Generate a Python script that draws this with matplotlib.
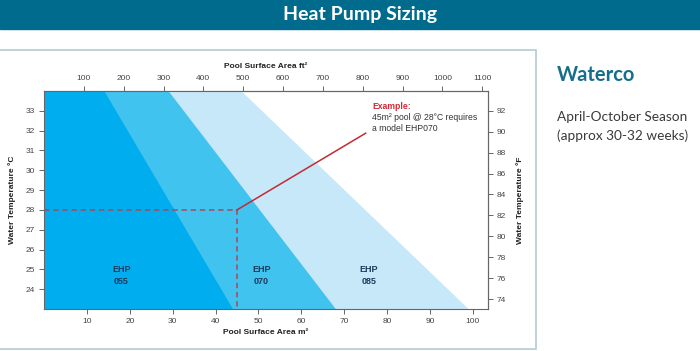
import matplotlib
matplotlib.use("Agg")
import matplotlib.pyplot as plt
from matplotlib.patches import Rectangle

# Dados
temps_c = [23, 34]              # limites de temperatura (°C)
ehp055 = [44, 14]               # área máxima (m²) em cada temperatura
ehp070 = [68, 29]
ehp085 = [99, 46]
model_names = ["EHP\n055", "EHP\n070", "EHP\n085"]
label_pos = [(18, 24.7), (50.7, 24.7), (75.7, 24.7)]

m2_ticks = [10, 20, 30, 40, 50, 60, 70, 80, 90, 100]
ft2_ticks = [100, 200, 300, 400, 500, 600, 700, 800, 900, 1000, 1100]
c_ticks = [24, 25, 26, 27, 28, 29, 30, 31, 32, 33]
f_ticks = [74, 76, 78, 80, 82, 84, 86, 88, 90, 92]

example_area = 45
example_temp = 28
example_text_pos = (75, 31.87)

plt.rcParams['font.family'] = ['Liberation Sans', 'DejaVu Sans']

fig = plt.figure(figsize=(7, 3.51), dpi=100)

# Faixa do título
fig.patches.append(Rectangle((0, 0.917), 1, 0.083, transform=fig.transFigure,
                             color="#016b8e", zorder=0))
fig.text(0.514, 0.958, "Heat Pump Sizing", color="white", fontsize=14,
         fontweight="bold", family="Lato", ha="center", va="center")

# Moldura do painel
fig.patches.append(Rectangle((-0.01, 0.006), 0.776, 0.852, transform=fig.transFigure,
                             fill=False, edgecolor="#b3ccd3", lw=1.2, zorder=0))

# Texto lateral
fig.text(0.796, 0.785, "Waterco", color="#176e8c", fontsize=14.5,
         fontweight="bold", family="Lato", va="center")
fig.text(0.796, 0.666, "April-October Season", color="#3a3a3a", fontsize=9.8,
         family="Lato", va="center")
fig.text(0.796, 0.612, "(approx 30-32 weeks)", color="#3a3a3a", fontsize=9.8,
         family="Lato", va="center")

ax = fig.add_axes([0.0629, 0.1197, 0.634, 0.621])

ax.fill_betweenx(temps_c, 0, ehp085, color="#c6e8f9", lw=0)
ax.fill_betweenx(temps_c, 0, ehp070, color="#41c3f0", lw=0)
ax.fill_betweenx(temps_c, 0, ehp055, color="#00aeef", lw=0)

for name, (x, y) in zip(model_names, label_pos):
    ax.text(x, y, name, ha="center", va="center", fontsize=6.5,
            fontweight="bold", color="#1d3b5c", linespacing=1.35)

# Exemplo
ax.plot([0, example_area, example_area], [example_temp, example_temp, 23],
        color="#a8485a", lw=1.1, ls=(0, (3.5, 2.5)))
ax.plot([example_area, example_text_pos[0]], [example_temp, example_text_pos[1]],
        color="#c42a30", lw=1.1)
ax.text(76.6, 33.2, "Example:", color="#d02a36", fontsize=6.2,
        fontweight="bold", va="center")
ax.text(76.6, 32.39, "45m² pool @ 28°C requires\na model EHP070", color="#333333",
        fontsize=6.2, va="center", linespacing=1.35)

ax.set_xlim(0, 103.5)
ax.set_ylim(23, 34)
ax.set_xticks(m2_ticks)
ax.set_yticks(c_ticks)

for s in ax.spines.values():
    s.set_color("#666666")
    s.set_linewidth(0.8)

tick_style = dict(labelsize=6, length=3.5, width=0.7, color="#666666",
                  labelcolor="#444444", pad=3)
ax.tick_params(**tick_style)
ax.set_xlabel("Pool Surface Area m²", fontsize=6, fontweight="bold",
              color="#222222", labelpad=3)
ax.set_ylabel("Water Temperature °C", fontsize=6, fontweight="bold",
              color="#222222", labelpad=7)

top = ax.secondary_xaxis("top", functions=(lambda m: m * 10.764, lambda f: f / 10.764))
top.set_xticks(ft2_ticks)
top.tick_params(**tick_style)
top.set_xlabel("Pool Surface Area ft²", fontsize=6, fontweight="bold",
               color="#222222", labelpad=5)
top.spines["top"].set_color("#666666")

right = ax.secondary_yaxis("right", functions=(lambda c: 74 + (c - 23.5) * 18 / 9.5,
                                               lambda f: 23.5 + (f - 74) * 9.5 / 18))
right.set_yticks(f_ticks)
right.tick_params(**tick_style)
right.set_ylabel("Water Temperature °F", fontsize=6, fontweight="bold",
                 color="#222222", labelpad=7)
right.spines["right"].set_color("#666666")

fig.savefig("out.png", dpi=100)
